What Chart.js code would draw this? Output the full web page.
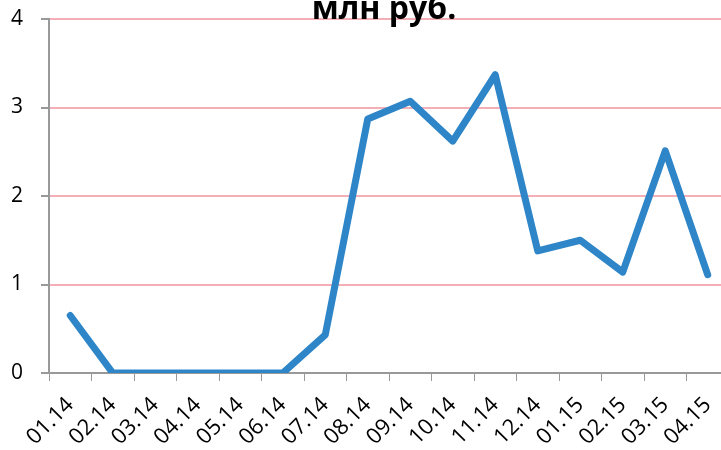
<!DOCTYPE html>
<html>
<head>
<meta charset="utf-8">
<script src="https://cdn.jsdelivr.net/npm/chart.js@4.4.1/dist/chart.umd.min.js"></script>
<style>
  html, body { margin: 0; padding: 0; background: #fff; overflow: hidden; }
  #wrap { width: 740px; height: 450px; }
</style>
</head>
<body>
<div id="wrap"><canvas id="chart" width="740" height="450"></canvas></div>
<script>
const months = ["01.14", "02.14", "03.14", "04.14", "05.14", "06.14", "07.14", "08.14",
  "09.14", "10.14", "11.14", "12.14", "01.15", "02.15", "03.15", "04.15"];
const values = [0.65, 0, 0, 0, 0, 0, 0.43, 2.87, 3.07, 2.62, 3.37, 1.38, 1.50, 1.14, 2.51, 1.11];
const yTicks = [0, 1, 2, 3, 4];
const titleText = "млн руб.";

const FONT = "'Open Sans', 'Noto Sans', sans-serif";

// title sits over the top gridline, so draw it by hand
const titlePlugin = {
  id: "overTitle",
  afterDraw(chart) {
    const { ctx, chartArea } = chart;
    ctx.save();
    ctx.font = "bold 32px " + FONT;
    ctx.fillStyle = "#000";
    ctx.textAlign = "center";
    ctx.textBaseline = "alphabetic";
    ctx.fillText(titleText, 384, chartArea.top);
    ctx.restore();
  }
};

new Chart(document.getElementById("chart"), {
  type: "line",
  data: {
    labels: months,
    datasets: [{
      data: values,
      borderColor: "#2E86C8",
      borderWidth: 7,
      borderJoinStyle: "round",
      borderCapStyle: "round",
      pointRadius: 0,
      tension: 0,
      fill: false
    }]
  },
  options: {
    responsive: false,
    animation: false,
    layout: { padding: { top: 19, right: 11, left: 0, bottom: 0 } },
    plugins: { legend: { display: false }, tooltip: { enabled: false } },
    scales: {
      x: {
        offset: true,
        afterFit(s) { s.height = 77; },
        grid: {
          offset: true,
          drawOnChartArea: false,
          tickLength: 8,
          tickColor: "#999",
          color: "#999"
        },
        border: { color: "#999", width: 2 },
        ticks: {
          color: "#000",
          font: { family: FONT, size: 22 },
          maxRotation: 45,
          minRotation: 45,
          padding: 11,
          autoSkip: false
        }
      },
      y: {
        min: 0,
        max: 4,
        afterFit(s) {
          s.width = 49;
          // keep the plot top pinned to the layout padding
          s.paddingTop = 0;
          s.paddingBottom = 0;
        },
        afterBuildTicks(s) { s.ticks = yTicks.map(v => ({ value: v })); },
        grid: {
          color: (c) => c.tick && c.tick.value === 0 ? "rgba(0,0,0,0)" : "#F4AEB5",
          lineWidth: 2,
          tickLength: 8,
          tickColor: "#999"
        },
        border: { color: "#999", width: 2 },
        ticks: {
          color: "#000",
          font: { family: FONT, size: 21 },
          padding: 18
        }
      }
    }
  },
  plugins: [titlePlugin]
});
</script>
</body>
</html>
